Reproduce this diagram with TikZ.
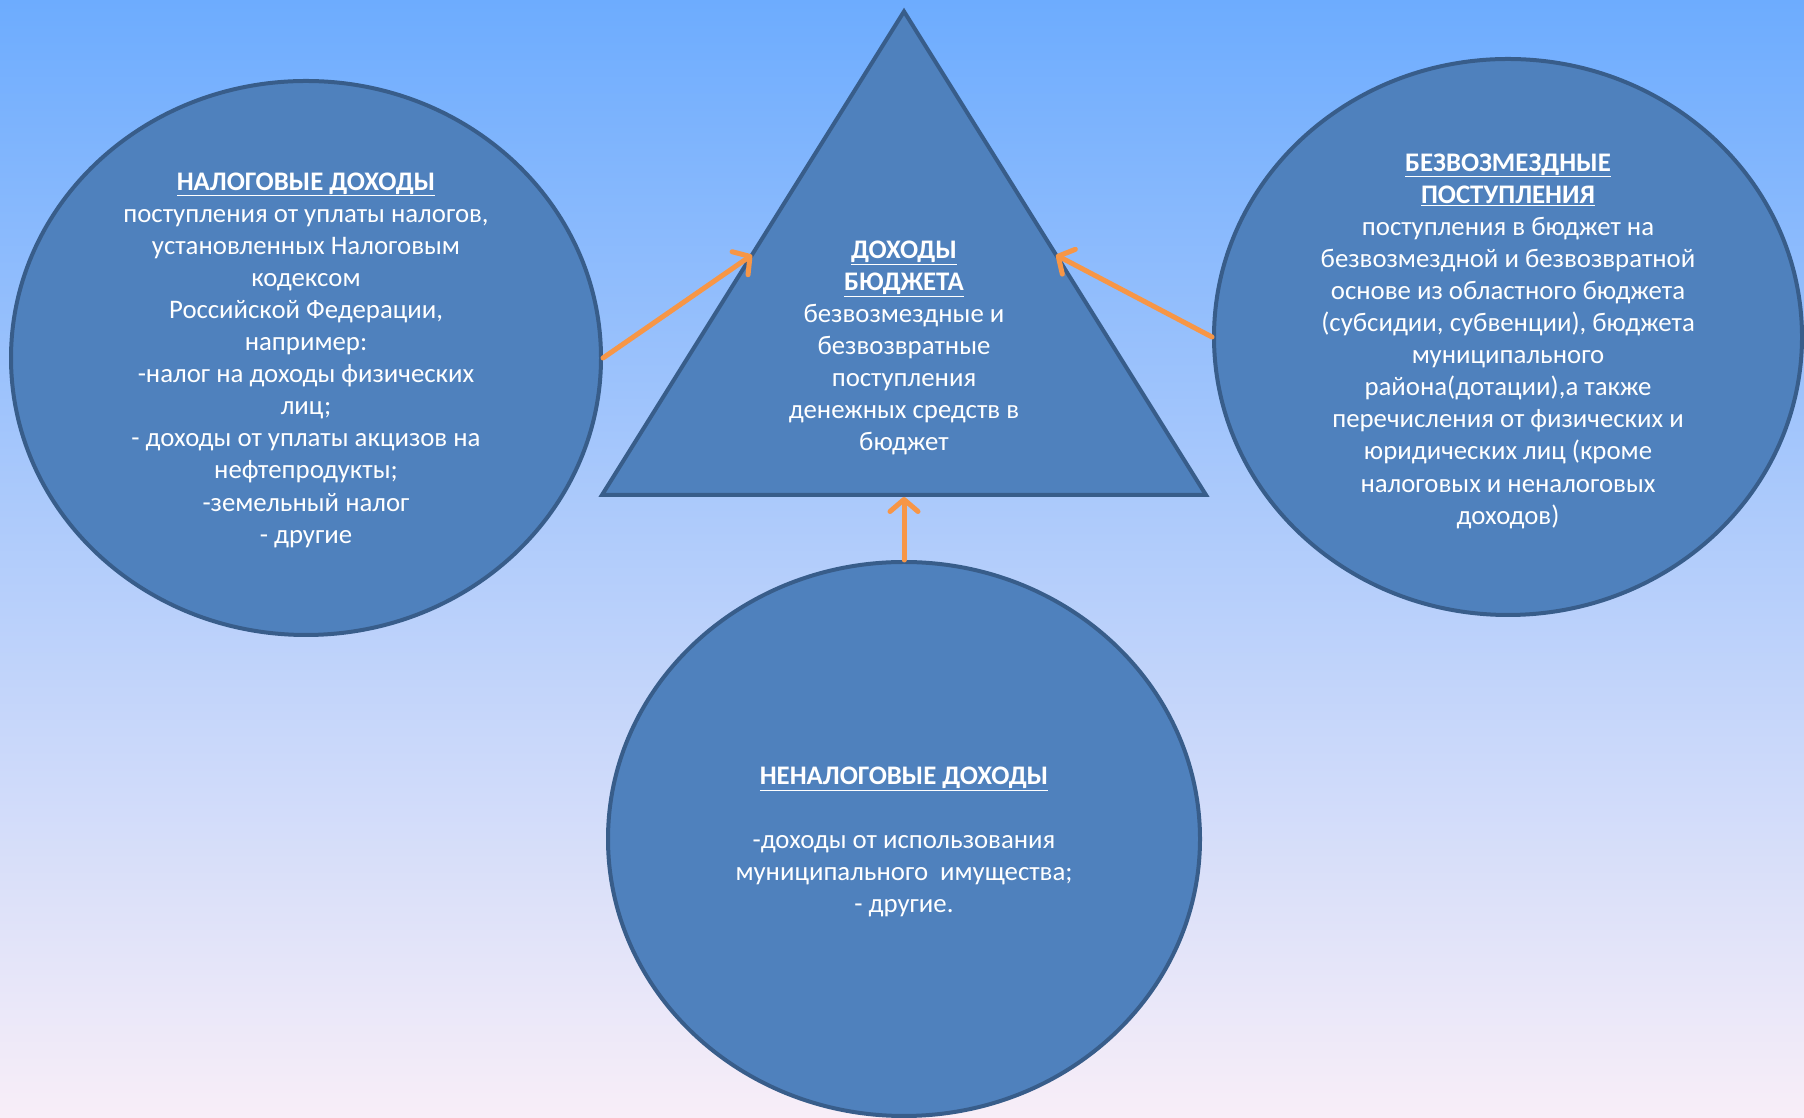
\documentclass[tikz,border=0pt]{standalone}
\usepackage{fontspec}
\setmainfont{Carlito}
\usetikzlibrary{shapes.geometric,arrows.meta}
\definecolor{bgtop}{HTML}{6DACFE}
\definecolor{bgmid}{HTML}{B3D3F3}
\definecolor{bgbot}{HTML}{F8EEF8}
\definecolor{shapefill}{HTML}{4F81BD}
\definecolor{shapeline}{HTML}{385D8A}
\definecolor{arrowcol}{HTML}{F79646}
\tikzset{
  oval/.style={ellipse, fill=shapefill, draw=shapeline, line width=4pt, inner sep=0pt},
  txt/.style={text=white, align=center, inner sep=0pt, font=\fontsize{26.8}{32.1}\selectfont},
  flow/.style={draw=arrowcol, line width=5pt, line cap=round, -{Straight Barb[length=12pt,width=28pt,round]}},
}
\newcommand{\hd}[1]{\underline{\textbf{#1}}}
\begin{document}
\begin{tikzpicture}[x=1pt,y=1pt]
\useasboundingbox (0,0) rectangle (1804,1118);
\fill[top color=bgtop, middle color=bgmid, bottom color=bgbot] (0,0) rectangle (1804,1118);

% triangle
\coordinate (apex) at (904,1106.5);
\coordinate (bl) at (602,623);
\coordinate (br) at (1206,623);
\draw[fill=shapefill, draw=shapeline, line width=4pt, line join=miter] (apex) -- (br) -- (bl) -- cycle;
\coordinate (tl) at (752,863);
\coordinate (tr) at (1056,863);
\coordinate (tb) at (904,621);

% ellipses
\node[oval, minimum width=590pt, minimum height=554pt] (L) at (306,760) {};
\node[oval, minimum width=588pt, minimum height=556pt] (R) at (1508,781) {};
\node[oval, minimum width=592pt, minimum height=554pt] (B) at (904,279) {};

% texts
\node[txt] (Ltxt) at (306,758) {\hd{НАЛОГОВЫЕ ДОХОДЫ}\\
поступления от уплаты налогов,\\
установленных Налоговым\\
кодексом\\
Российской Федерации,\\
например:\\
-налог на доходы физических\\
лиц;\\
- доходы от уплаты акцизов на\\
нефтепродукты;\\
-земельный налог\\
- другие};

\node[txt] (Ttxt) at (904,770) {\hd{ДОХОДЫ}\\
\hd{БЮДЖЕТА}\\
безвозмездные и\\
безвозвратные\\
поступления\\
денежных средств в\\
бюджет};

\node[txt] (Rtxt) at (1508,777) {\hd{БЕЗВОЗМЕЗДНЫЕ}\\
\hd{ПОСТУПЛЕНИЯ}\\
поступления в бюджет на\\
безвозмездной и безвозвратной\\
основе из областного бюджета\\
(субсидии, субвенции), бюджета\\
муниципального\\
района(дотации),а также\\
перечисления от физических и\\
юридических лиц (кроме\\
налоговых и неналоговых\\
доходов)};

\node[txt] (Btxt) at (904,276) {\hd{НЕНАЛОГОВЫЕ ДОХОДЫ}\\[32pt]
-доходы от использования\\
муниципального\ \ имущества;\\
- другие.};

% arrows
\draw[flow] (L.east) -- (tl);
\draw[flow] (R.west) -- (tr);
\draw[flow] (B.north) -- (tb);
\end{tikzpicture}
\end{document}
